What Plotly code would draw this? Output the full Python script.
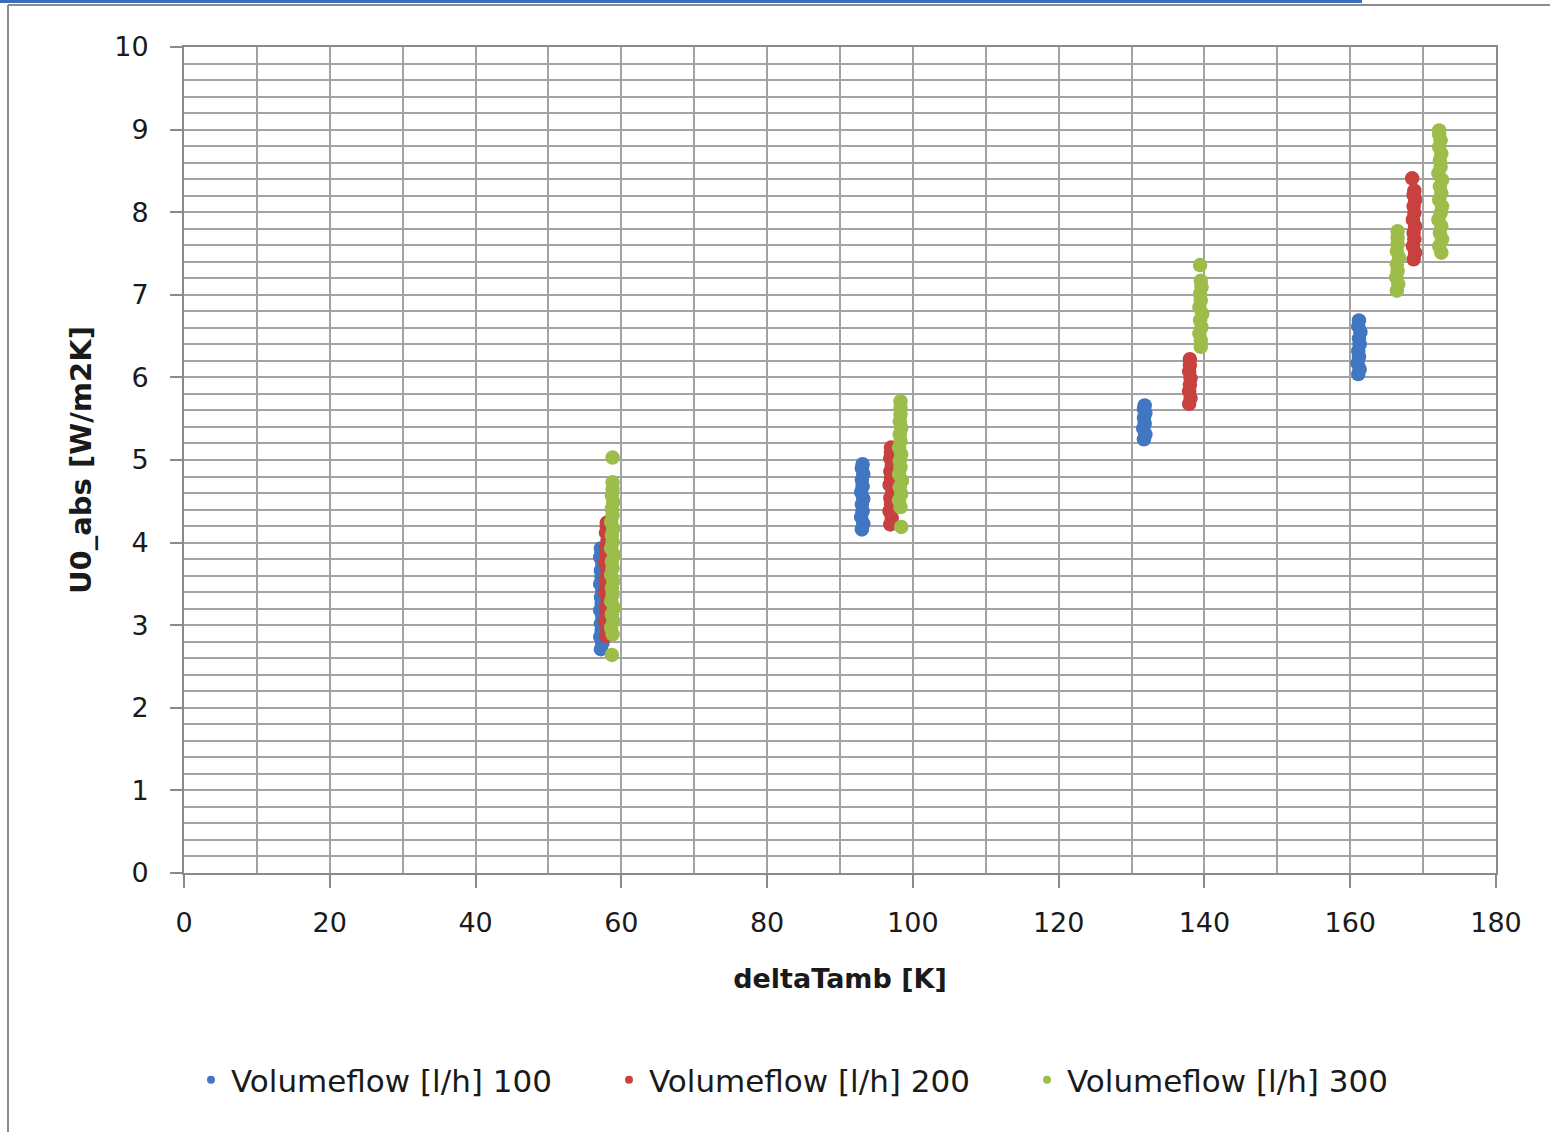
import plotly.graph_objects as go

# ---- data ----
series_names = ["Volumeflow [l/h] 100", "Volumeflow [l/h] 200", "Volumeflow [l/h] 300"]
series_colors = ["#4176C2", "#C8413F", "#9DBD4B"]

blue_x = [57.2, 57.4, 57.1, 57.3, 57.2, 57.4, 57.1, 57.3, 57.2, 57.4, 57.1, 57.3, 57.2, 57.4, 57.1, 57.3, 57.2,
          93.0, 93.2, 92.9, 93.1, 93.0, 93.2, 92.9, 93.1, 93.0, 93.2, 93.0, 93.1,
          131.7, 131.9, 131.6, 131.8, 131.7, 131.9, 131.7, 131.8,
          161.1, 161.3, 161.0, 161.2, 161.1, 161.3, 161.2, 161.4, 161.1, 161.2]
blue_y = [2.71, 2.78, 2.86, 2.94, 3.02, 3.10, 3.18, 3.26, 3.34, 3.42, 3.50, 3.58, 3.66, 3.74, 3.82, 3.88, 3.93,
          4.16, 4.23, 4.31, 4.38, 4.46, 4.53, 4.61, 4.68, 4.76, 4.83, 4.90, 4.95,
          5.25, 5.31, 5.38, 5.44, 5.51, 5.57, 5.62, 5.66,
          6.04, 6.10, 6.17, 6.25, 6.32, 6.40, 6.47, 6.55, 6.62, 6.69]

red_x = [57.9, 58.1, 57.8, 58.0, 57.9, 58.1, 57.8, 58.0, 57.9, 58.1, 57.8, 58.0, 57.9, 58.1, 57.9, 58.0, 58.0,
         96.9, 97.1, 96.8, 97.0, 96.9, 97.2, 96.8, 97.0, 96.9, 97.1, 96.9, 97.0, 97.0,
         137.9, 138.1, 137.9, 138.0, 138.1, 137.9, 138.0, 138.0,
         168.7, 168.9, 168.6, 168.8, 168.7, 168.9, 168.6, 168.8, 168.7, 168.9, 168.7, 168.8, 168.5]
red_y = [2.87, 2.95, 3.04, 3.13, 3.22, 3.31, 3.40, 3.49, 3.58, 3.67, 3.76, 3.85, 3.94, 4.03, 4.12, 4.20, 4.24,
         4.22, 4.30, 4.38, 4.46, 4.54, 4.62, 4.70, 4.78, 4.86, 4.94, 5.02, 5.09, 5.15,
         5.68, 5.75, 5.83, 5.91, 5.99, 6.07, 6.15, 6.22,
         7.43, 7.51, 7.59, 7.67, 7.75, 7.83, 7.91, 7.99, 8.07, 8.15, 8.21, 8.26, 8.41]

green_x = [58.7, 58.8, 58.6, 58.9, 58.7, 59.0, 58.6, 58.8, 58.7, 58.9, 58.6, 58.8, 58.7, 59.0, 58.6, 58.8,
           58.7, 58.9, 58.6, 58.8, 58.7, 58.9, 58.7, 58.8, 58.8, 58.8,
           98.4, 98.3, 98.1, 98.4, 98.2, 98.5, 98.1, 98.3, 98.2, 98.4, 98.1, 98.3, 98.2, 98.4, 98.2, 98.3, 98.3, 98.3,
           139.5, 139.5, 139.3, 139.6, 139.4, 139.7, 139.3, 139.5, 139.4, 139.6, 139.5, 139.4,
           166.4, 166.6, 166.3, 166.5, 166.4, 166.7, 166.4, 166.5, 166.5, 166.5,
           172.5, 172.2, 172.6, 172.3, 172.5, 172.1, 172.4, 172.6, 172.2, 172.5, 172.3, 172.6, 172.1, 172.4,
           172.3, 172.5, 172.2, 172.4, 172.2, 172.2]
green_y = [2.64, 2.89, 2.97, 3.05, 3.13, 3.21, 3.29, 3.37, 3.45, 3.53, 3.61, 3.69, 3.77, 3.85, 3.93, 4.01,
           4.09, 4.17, 4.25, 4.33, 4.41, 4.49, 4.57, 4.65, 4.73, 5.03,
           4.19, 4.43, 4.51, 4.59, 4.67, 4.75, 4.83, 4.91, 4.99, 5.07, 5.15, 5.23, 5.31, 5.39, 5.47, 5.55, 5.63, 5.71,
           6.37, 6.45, 6.53, 6.61, 6.69, 6.77, 6.85, 6.93, 7.01, 7.09, 7.17, 7.36,
           7.05, 7.13, 7.21, 7.29, 7.37, 7.45, 7.53, 7.61, 7.69, 7.77,
           7.51, 7.59, 7.67, 7.75, 7.83, 7.91, 7.99, 8.07, 8.15, 8.23, 8.31, 8.39, 8.47, 8.55,
           8.63, 8.71, 8.79, 8.87, 8.94, 8.99]

x_tick_values = [0, 20, 40, 60, 80, 100, 120, 140, 160, 180]
y_tick_values = [0, 1, 2, 3, 4, 5, 6, 7, 8, 9, 10]
x_title = "deltaTamb [K]"
y_title = "U0_abs [W/m2K]"

# ---- figure ----
W, H = 1550, 1132
L, R, T, B = 184, 54, 47, 259
pw, ph = W - L - R, H - T - B

def px(xp):
    return (xp - L) / pw

def py(yp):
    return (H - B - yp) / ph

FONT = "DejaVu Sans"
GRID = "#a3a3a3"
AXIS = "#8a8a8a"

fig = go.Figure()
all_x = [blue_x, red_x, green_x]
all_y = [blue_y, red_y, green_y]
for name, col, xs, ys in zip(series_names, series_colors, all_x, all_y):
    fig.add_trace(go.Scatter(x=xs, y=ys, mode="markers", name=name, showlegend=False,
                             marker=dict(color=col, size=14.5, line=dict(width=0))))
for name, col in zip(series_names, series_colors):
    fig.add_trace(go.Scatter(x=[None], y=[None], mode="markers", name=name, showlegend=True,
                             marker=dict(color=col, size=8, line=dict(width=0))))

fig.update_layout(
    width=W, height=H,
    margin=dict(l=L, r=R, t=T, b=B, pad=0),
    paper_bgcolor="white", plot_bgcolor="white",
    font=dict(family=FONT, color="#1a1a1a"),
    showlegend=True,
    legend=dict(orientation="h", x=px(191), xanchor="left", y=py(1080), yanchor="middle",
                font=dict(family=FONT, size=31, color="#1a1a1a"),
                itemwidth=30, entrywidth=373, bgcolor="rgba(0,0,0,0)", borderwidth=0),
    xaxis=dict(range=[0, 180], tickvals=x_tick_values, ticks="outside", ticklen=13, tickwidth=1.5,
               tickcolor=AXIS, showgrid=True, gridcolor=GRID, gridwidth=1.5,
               minor=dict(dtick=10, showgrid=True, gridcolor=GRID, gridwidth=1.5),
               showline=True, linecolor=AXIS, linewidth=2, mirror=True, zeroline=False,
               tickfont=dict(family=FONT, size=27, color="#1a1a1a"), ticklabelstandoff=12,
               title=dict(text="<b>" + x_title + "</b>", font=dict(family=FONT, size=27, color="#1a1a1a"),
                          standoff=32)),
    yaxis=dict(range=[0, 10], tickvals=y_tick_values, ticks="outside", ticklen=12, tickwidth=1.5,
               tickcolor=AXIS, showgrid=True, gridcolor=GRID, gridwidth=1.5,
               minor=dict(dtick=0.2, showgrid=True, gridcolor=GRID, gridwidth=1.5),
               showline=True, linecolor=AXIS, linewidth=2, mirror=True, zeroline=False,
               tickfont=dict(family=FONT, size=27, color="#1a1a1a"), ticklabelstandoff=16,
               title=dict(text="<b>" + y_title + "</b>", font=dict(family=FONT, size=29, color="#1a1a1a"),
                          standoff=14)),
    shapes=[
        dict(type="line", xref="paper", yref="paper", x0=px(8), x1=px(1550), y0=py(5), y1=py(5),
             line=dict(color="#8c8c8c", width=2)),
        dict(type="line", xref="paper", yref="paper", x0=px(8), x1=px(8), y0=py(5), y1=py(1132),
             line=dict(color="#8c8c8c", width=2)),
        dict(type="line", xref="paper", yref="paper", x0=px(0), x1=px(1362), y0=py(1.5), y1=py(1.5),
             line=dict(color="#3d6eb5", width=3)),
    ],
)

fig.write_html("out.html", config={"displayModeBar": False},
               post_script="document.body.style.margin='0';document.body.style.overflow='hidden';")
